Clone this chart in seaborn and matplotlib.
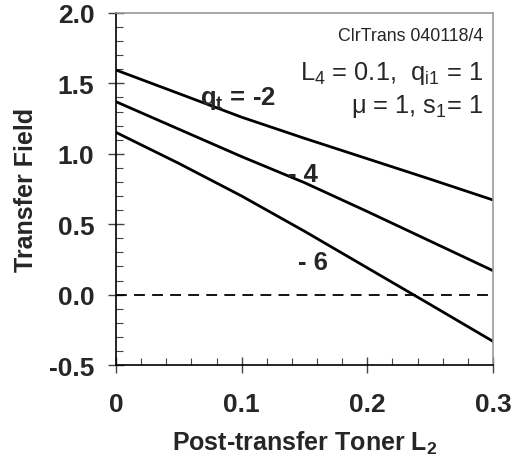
import numpy as np
import pandas as pd
import matplotlib
matplotlib.use("Agg")
import matplotlib.pyplot as plt
import seaborn as sns
from matplotlib.ticker import MultipleLocator

# Data
L2 = [0.0, 0.05, 0.10, 0.15, 0.20, 0.25, 0.30]
field_qm2 = [1.595, 1.428, 1.260, 1.110, 0.965, 0.820, 0.672]
field_qm4 = [1.370, 1.175, 0.980, 0.795, 0.590, 0.380, 0.170]
field_qm6 = [1.152, 0.932, 0.700, 0.450, 0.190, -0.070, -0.332]
series_names = ["-2", "-4", "-6"]

df = pd.concat([
    pd.DataFrame({"L2": L2, "field": v, "qt": n})
    for n, v in zip(series_names, [field_qm2, field_qm4, field_qm6])
])

sns.set_theme(style="ticks")
plt.rcParams['font.family'] = ['Liberation Sans', 'DejaVu Sans']
plt.rcParams['mathtext.fontset'] = 'custom'
plt.rcParams['mathtext.rm'] = 'Liberation Sans'

fig = plt.figure(figsize=(5.15, 4.6), dpi=100)
ax = fig.add_axes([0.2252, 0.2043, 0.9573 - 0.2252, 0.9696 - 0.2043])

sns.lineplot(data=df, x="L2", y="field", hue="qt", palette=["black"] * 3,
             linewidth=2.0, legend=False, ax=ax)
ax.axhline(0, color="black", lw=1.3, dashes=(6, 4))

ax.set_xlim(0, 0.3)
ax.set_ylim(-0.5, 2.0)
ax.xaxis.set_major_locator(MultipleLocator(0.1))
ax.xaxis.set_minor_locator(MultipleLocator(0.02))
ax.yaxis.set_major_locator(MultipleLocator(0.5))
ax.yaxis.set_minor_locator(MultipleLocator(0.1))
ax.set_xticks([0, 0.1, 0.2, 0.3])
ax.set_xticklabels(["0", "0.1", "0.2", "0.3"])
ax.set_yticks([-0.5, 0, 0.5, 1.0, 1.5, 2.0])
ax.set_yticklabels(["-0.5", "0.0", "0.5", "1.0", "1.5", "2.0"])

ax.tick_params(axis="x", which="major", direction="inout", length=11, width=1,
               pad=14, labelsize=19, color="#444444")
ax.tick_params(axis="y", which="major", direction="inout", length=11, width=1,
               pad=10, labelsize=19, color="#444444")
ax.tick_params(which="minor", direction="in", length=5, width=0.8, color="#444444")
for lab in ax.get_xticklabels() + ax.get_yticklabels():
    lab.set_fontweight("bold")

for s in ["left", "bottom"]:
    ax.spines[s].set_color("black")
    ax.spines[s].set_linewidth(1.2)
for s in ["top", "right"]:
    ax.spines[s].set_visible(True)
    ax.spines[s].set_color("#999999")
    ax.spines[s].set_linewidth(1.2)

ax.set_xlabel(r"Post-transfer Toner L$_\mathregular{2}$", fontsize=18,
              fontweight="bold", labelpad=9)
ax.set_ylabel("Transfer Field", fontsize=18, fontweight="bold", labelpad=8)

ax.text(0.0665, 1.40, r"q$_\mathregular{t}$ = -2", fontsize=18.5, fontweight="bold",
        ha="left", va="center")
ax.text(0.137, 0.86, "- 4", fontsize=18.5, fontweight="bold", ha="left", va="center")
ax.text(0.145, 0.235, "- 6", fontsize=18.5, fontweight="bold", ha="left", va="center")

ax.text(0.292, 1.837, "ClrTrans 040118/4", fontsize=12.8, ha="right", va="center")
ax.text(0.292, 1.58, r"L$_\mathregular{4}$ = 0.1,  q$_\mathregular{i1}$ = 1",
        fontsize=18.3, ha="right", va="center")
ax.text(0.292, 1.345, r"μ = 1, s$_\mathregular{1}$= 1",
        fontsize=18.3, ha="right", va="center")

fig.savefig("out.png", dpi=100)
